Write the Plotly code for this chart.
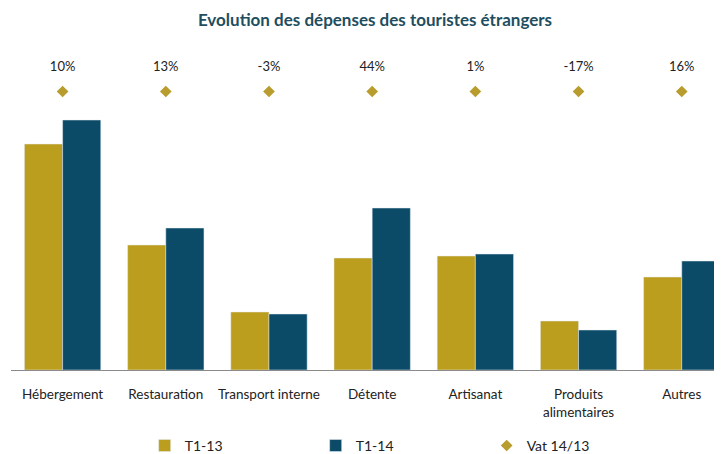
import plotly.graph_objects as go

categories = ["Hébergement", "Restauration", "Transport interne", "Détente",
              "Artisanat", "Produits<br>alimentaires", "Autres"]
t1_13 = [226, 125, 58, 112, 114, 49, 93]
t1_14 = [250, 142, 56, 162, 116, 40, 109]
vat = [10, 13, -3, 44, 1, -17, 16]
vat_labels = [f"{v}%" for v in vat]

GOLD = "#BC9E1E"
NAVY = "#0B4B68"
FONT = "Lato, Open Sans, sans-serif"

fig = go.Figure()
fig.add_trace(go.Bar(x=categories, y=t1_13, name="T1-13", marker_color=GOLD))
fig.add_trace(go.Bar(x=categories, y=t1_14, name="T1-14", marker_color=NAVY))
fig.add_trace(go.Scatter(x=categories, y=[1] * len(vat), name="Vat 14/13",
                         mode="markers", yaxis="y2",
                         marker=dict(symbol="diamond", size=9, color="#B89C2E")))
fig.add_trace(go.Scatter(x=categories, y=[1.084] * len(vat), mode="text",
                         text=vat_labels, yaxis="y2", showlegend=False,
                         textfont=dict(size=13, color="#222", family=FONT)))

# page body has an 8px margin, so the figure is sized to the remaining area
fig.update_layout(
    width=714, height=446,
    margin=dict(l=3, r=0, t=32, b=84, autoexpand=False),
    paper_bgcolor="white", plot_bgcolor="white",
    font=dict(family=FONT, size=13, color="#222"),
    title=dict(text="<b>Evolution des dépenses des touristes étrangers</b>",
               x=0.514, xanchor="center", y=0.973, yanchor="middle",
               font=dict(size=17, color="#1E4E60", family=FONT)),
    barmode="group", bargap=0.26, bargroupgap=0,
    xaxis=dict(range=[-0.5, 6.39], showline=True, linecolor="#8a8a8a",
               linewidth=1, ticks="", ticklabelstandoff=12,
               tickfont=dict(size=13.5), fixedrange=True),
    yaxis=dict(range=[0, 330], visible=False, showgrid=False),
    yaxis2=dict(range=[0, 1.185], overlaying="y", visible=False, showgrid=False),
    legend=dict(orientation="h", x=0.188, xanchor="left", y=-0.23,
                yanchor="middle", entrywidth=126, font=dict(size=14),
                traceorder="normal"),
    showlegend=True,
)

fig.write_html("out.html")
